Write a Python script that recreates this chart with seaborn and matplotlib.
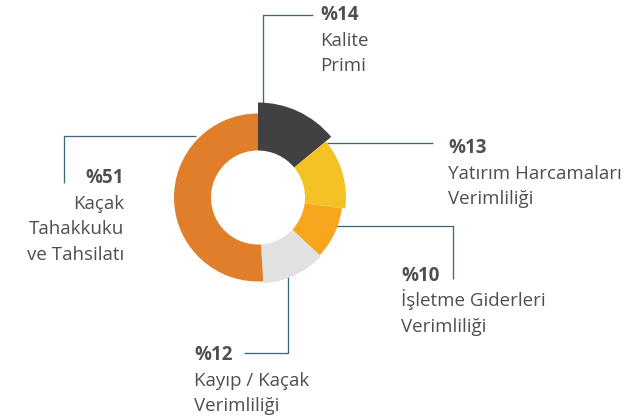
import matplotlib
matplotlib.use("Agg")
import matplotlib.pyplot as plt
import seaborn as sns

# Data
categories = ["Kalite\nPrimi",
              "Yatırım Harcamaları\nVerimliliği",
              "İşletme Giderleri\nVerimliliği",
              "Kayıp / Kaçak\nVerimliliği",
              "Kaçak\nTahakkuku\nve Tahsilatı"]
shares = [14, 13, 10, 12, 51]

colors = ["#414042", "#f4c224", "#f8a61d", "#e1e2e4", "#e07e2a"]
outer_r = [95, 88, 84.5, 86, 84]   # each slice sticks out a little differently
inner_r = 47

sns.set_theme(style="white")
plt.rcParams["font.family"] = ["Open Sans", "DejaVu Sans"]

W, H = 637, 419
fig = plt.figure(figsize=(W / 100, H / 100), dpi=100)
ax = fig.add_axes([0, 0, 1, 1])


def py(y):
    # pixel row (from top) -> data y
    return H - y


cx, cy = 258, py(197.5)
wedges, _ = ax.pie(shares, colors=colors, startangle=90, counterclock=False,
                   radius=85, center=(cx, cy),
                   wedgeprops=dict(width=38, linewidth=0, zorder=3))
for w, r in zip(wedges, outer_r):
    w.set_radius(r)
    w.set_width(r - inner_r)

# leader lines
line_kw = dict(color="#3d6a7b", lw=0.95, zorder=1, solid_capstyle="butt")
leaders = [
    [(262.5, 103), (262.5, 15), (313, 15)],
    [(327, 143), (433, 143)],
    [(327, 226), (453, 226), (453, 279)],
    [(288, 272), (288, 353), (244, 353)],
    [(196, 136), (64, 136), (64, 183)],
]
for pts in leaders:
    ax.plot([p[0] for p in pts], [py(p[1]) for p in pts], **line_kw)

# labels: (x, first baseline, alignment)
label_pos = [(320, 20, "left"), (448, 153, "left"), (401, 281, "left"),
             (194, 360, "left"), (124, 183, "right")]
pitch = 25.5
txt_color = "#4a5055"
fs = 13.5
for cat, val, (x, y0, ha) in zip(categories, shares, label_pos):
    ax.text(x, py(y0), f"%{val}", ha=ha, va="baseline", fontsize=fs,
            fontweight="bold", color=txt_color)
    for i, line in enumerate(cat.split("\n")):
        ax.text(x, py(y0 + pitch * (i + 1)), line, ha=ha, va="baseline",
                fontsize=fs, color=txt_color)

ax.set_xlim(0, W)
ax.set_ylim(0, H)
ax.set_aspect("equal")
ax.axis("off")

fig.savefig("out.png", dpi=100, facecolor="white")
